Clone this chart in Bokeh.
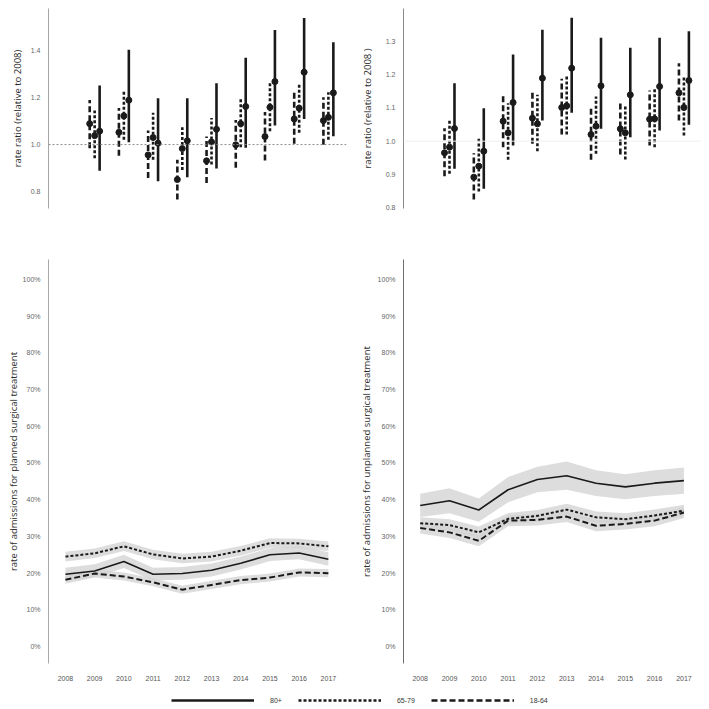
from bokeh.plotting import figure
from bokeh.layouts import column, row
from bokeh.models import (ColumnDataSource, FixedTicker, PrintfTickFormatter, Span,
                          Range1d, Legend, LegendItem)
from bokeh.transform import dodge
from bokeh.embed import file_html
from bokeh.resources import INLINE

# ---------------- data ----------------
years = [2008, 2009, 2010, 2011, 2012, 2013, 2014, 2015, 2016, 2017]
rr_years = [2009, 2010, 2011, 2012, 2013, 2014, 2015, 2016, 2017]
groups = ["80+", "65-79", "18-64"]

# rate ratios, planned surgical treatment
pl_rr_1864 = [1.089, 1.052, 0.956, 0.851, 0.931, 0.999, 1.034, 1.109, 1.102]
pl_lo_1864 = [0.984, 0.952, 0.858, 0.766, 0.836, 0.901, 0.932, 1.003, 0.999]
pl_hi_1864 = [1.190, 1.156, 1.060, 0.935, 1.034, 1.105, 1.139, 1.227, 1.201]
pl_rr_6579 = [1.038, 1.122, 1.030, 0.983, 1.011, 1.089, 1.159, 1.155, 1.116]
pl_lo_6579 = [0.942, 1.020, 0.935, 0.892, 0.915, 0.989, 1.057, 1.050, 1.020]
pl_hi_6579 = [1.145, 1.225, 1.135, 1.074, 1.113, 1.194, 1.262, 1.258, 1.223]
pl_rr_80 = [1.057, 1.189, 1.006, 1.016, 1.065, 1.162, 1.268, 1.308, 1.220]
pl_lo_80 = [0.889, 1.010, 0.844, 0.861, 0.898, 0.986, 1.081, 1.109, 1.035]
pl_hi_80 = [1.251, 1.404, 1.197, 1.197, 1.261, 1.369, 1.488, 1.539, 1.435]

# rate ratios, unplanned surgical treatment
un_rr_1864 = [0.965, 0.892, 1.060, 1.069, 1.101, 1.020, 1.037, 1.066, 1.145]
un_lo_1864 = [0.895, 0.825, 0.982, 0.992, 1.020, 0.944, 0.960, 0.987, 1.062]
un_hi_1864 = [1.039, 0.964, 1.144, 1.150, 1.187, 1.102, 1.119, 1.152, 1.234]
un_rr_6579 = [0.982, 0.925, 1.025, 1.052, 1.106, 1.045, 1.025, 1.067, 1.101]
un_lo_6579 = [0.902, 0.849, 0.944, 0.970, 1.020, 0.962, 0.945, 0.982, 1.017]
un_hi_6579 = [1.064, 1.007, 1.114, 1.139, 1.197, 1.134, 1.109, 1.157, 1.192]
un_rr_80 = [1.038, 0.970, 1.116, 1.189, 1.219, 1.166, 1.139, 1.164, 1.182]
un_lo_80 = [0.917, 0.857, 0.987, 1.062, 1.085, 1.037, 1.012, 1.032, 1.049]
un_hi_80 = [1.174, 1.099, 1.260, 1.334, 1.370, 1.310, 1.280, 1.310, 1.330]

# rates (%), planned surgical treatment
pl_rate_80 = [19.7, 20.6, 23.2, 19.7, 19.9, 20.8, 22.7, 25.0, 25.5, 23.8]
pl_rlo_80 = [18.0, 18.9, 21.4, 18.0, 18.2, 19.1, 21.0, 23.3, 23.8, 22.0]
pl_rhi_80 = [21.5, 22.4, 25.0, 21.5, 21.7, 22.6, 24.5, 26.8, 27.3, 25.7]
pl_rate_6579 = [24.5, 25.4, 27.3, 25.1, 24.0, 24.5, 26.1, 28.2, 28.1, 27.3]
pl_rlo_6579 = [23.2, 24.1, 26.0, 23.8, 22.7, 23.2, 24.8, 26.9, 26.8, 26.0]
pl_rhi_6579 = [25.8, 26.7, 28.7, 26.4, 25.3, 25.8, 27.4, 29.5, 29.4, 28.6]
pl_rate_1864 = [18.2, 19.9, 19.1, 17.5, 15.5, 16.8, 18.1, 18.8, 20.2, 20.0]
pl_rlo_1864 = [17.1, 18.8, 18.0, 16.4, 14.4, 15.7, 17.0, 17.7, 19.1, 18.9]
pl_rhi_1864 = [19.3, 21.0, 20.2, 18.6, 16.6, 17.9, 19.2, 19.9, 21.3, 21.1]

# rates (%), unplanned surgical treatment
un_rate_80 = [38.4, 39.7, 37.2, 42.7, 45.5, 46.5, 44.5, 43.5, 44.5, 45.2]
un_rlo_80 = [35.3, 36.3, 34.0, 39.3, 42.0, 42.7, 41.0, 40.1, 41.0, 41.6]
un_rhi_80 = [41.6, 43.1, 40.3, 46.2, 49.0, 50.4, 48.0, 46.9, 48.0, 48.8]
un_rate_6579 = [33.6, 33.1, 31.1, 34.8, 35.6, 37.3, 35.2, 34.7, 35.7, 37.0]
un_rlo_6579 = [32.0, 31.5, 29.6, 33.3, 34.0, 35.7, 33.7, 33.2, 34.2, 35.5]
un_rhi_6579 = [35.2, 34.7, 32.7, 36.4, 37.2, 38.9, 36.8, 36.3, 37.3, 38.6]
un_rate_1864 = [32.3, 31.1, 28.8, 34.3, 34.5, 35.4, 32.9, 33.4, 34.3, 36.5]
un_rlo_1864 = [30.8, 29.6, 27.3, 32.8, 33.0, 33.9, 31.4, 31.9, 32.8, 35.0]
un_rhi_1864 = [33.8, 32.6, 30.3, 35.8, 36.0, 36.9, 34.4, 34.9, 35.8, 38.0]

rr_ticks_pl = [0.8, 1.0, 1.2, 1.4]
rr_ticks_un = [0.8, 0.9, 1.0, 1.1, 1.2, 1.3]
pct_ticks = [0, 10, 20, 30, 40, 50, 60, 70, 80, 90, 100]

# ---------------- styles ----------------
DASH = {"80+": "solid", "65-79": "3 2", "18-64": "6 3"}
OFFSET = {"18-64": -0.17, "65-79": 0.0, "80+": 0.17}
INK = "#1a1a1a"
TICK_FONT = "Liberation Sans"
LABEL_FONT = "Open Sans"


def style_yaxis(p, label, ticks, fmt, axis_color, label_standoff):
    ax = p.yaxis[0]
    ax.axis_label = label
    ax.axis_label_text_font = LABEL_FONT
    ax.axis_label_text_font_size = "9.5px"
    ax.axis_label_text_font_style = "normal"
    ax.axis_label_text_color = "#2b2b2b"
    ax.axis_label_standoff = label_standoff
    ax.ticker = FixedTicker(ticks=ticks)
    ax.formatter = PrintfTickFormatter(format=fmt)
    ax.major_label_text_font = TICK_FONT
    ax.major_label_text_font_size = "7px"
    ax.major_label_text_color = "#666666"
    ax.major_label_standoff = 8
    ax.major_tick_line_color = None
    ax.major_tick_out = 0
    ax.major_tick_in = 0
    ax.minor_tick_line_color = None
    ax.minor_tick_out = 0
    ax.minor_tick_in = 0
    ax.axis_line_color = axis_color
    ax.axis_line_width = 1


def base_fig(width, height, xr, yr, bl, br, bt, bb):
    p = figure(width=width, height=height, x_range=xr, y_range=yr,
               output_backend="svg", toolbar_location=None,
               min_border_left=bl, min_border_right=br,
               min_border_top=bt, min_border_bottom=bb)
    p.outline_line_color = None
    p.xgrid.grid_line_color = None
    p.ygrid.grid_line_color = None
    p.background_fill_color = "white"
    return p


def rr_panel(xr, yr, width, bl, br, label, ticks, series, ref_color, ref_dash, axis_color, lstand):
    p = base_fig(width, 248, xr, yr, bl, br, 8, 40)
    p.xaxis.visible = False
    p.add_layout(Span(location=1.0, dimension="width", line_color=ref_color,
                      line_dash=ref_dash, line_width=1))
    for g in ["18-64", "65-79", "80+"]:
        rr, lo, hi = series[g]
        src = ColumnDataSource(dict(year=rr_years, rr=rr, lo=lo, hi=hi))
        xd = dodge("year", OFFSET[g], range=xr)
        p.segment(x0=xd, y0="lo", x1=xd, y1="hi", source=src, line_color=INK,
                  line_width=2.6, line_dash=DASH[g])
        p.scatter(x=xd, y="rr", source=src, size=6, fill_color=INK, line_color=INK)
    style_yaxis(p, label, ticks, "%.1f", axis_color, lstand)
    return p


def rate_panel(xr, width, bl, br, label, series, axis_color, lstand):
    yr = Range1d(-4.6, 105.4)
    p = base_fig(width, 440, xr, yr, bl, br, 11, 25)
    for g in ["80+", "65-79", "18-64"]:
        val, lo, hi = series[g]
        src = ColumnDataSource(dict(year=years, val=val, lo=lo, hi=hi))
        p.varea(x="year", y1="lo", y2="hi", source=src, fill_color="#d2d2d2",
                fill_alpha=0.75)
    for g in ["80+", "65-79", "18-64"]:
        val, lo, hi = series[g]
        src = ColumnDataSource(dict(year=years, val=val))
        lw = 1.6 if g == "80+" else 2.0
        p.line(x="year", y="val", source=src, line_color=INK, line_width=lw,
               line_dash=DASH[g])
    style_yaxis(p, label, pct_ticks, "%d%%", axis_color, lstand)
    xa = p.xaxis[0]
    xa.ticker = FixedTicker(ticks=years)
    xa.axis_line_color = None
    xa.major_tick_line_color = None
    xa.major_tick_out = 0
    xa.major_tick_in = 0
    xa.minor_tick_line_color = None
    xa.minor_tick_out = 0
    xa.minor_tick_in = 0
    xa.major_label_text_font = TICK_FONT
    xa.major_label_text_font_size = "7px"
    xa.major_label_text_color = "#555555"
    xa.major_label_standoff = 12
    return p


xr_left = Range1d(2007.42, 2017.62)
xr_right = Range1d(2007.43, 2017.60)

p1 = rr_panel(xr_left, Range1d(0.728, 1.579), 350, 48, 4,
              "rate ratio (relative to 2008)", rr_ticks_pl,
              {"18-64": (pl_rr_1864, pl_lo_1864, pl_hi_1864),
               "65-79": (pl_rr_6579, pl_lo_6579, pl_hi_6579),
               "80+": (pl_rr_80, pl_lo_80, pl_hi_80)},
              "#8c8c8c", "2 2", "#a5a5a5", 4)
p2 = rr_panel(xr_right, Range1d(0.798, 1.398), 351, 53, 0,
              "rate ratio (relative to 2008 )", rr_ticks_un,
              {"18-64": (un_rr_1864, un_lo_1864, un_hi_1864),
               "65-79": (un_rr_6579, un_lo_6579, un_hi_6579),
               "80+": (un_rr_80, un_lo_80, un_hi_80)},
              "#f0f0f0", "solid", "#8a8a8a", 9)
p3 = rate_panel(xr_left, 350, 48, 4,
                "rate of admissions for planned surgical treatment",
                {"80+": (pl_rate_80, pl_rlo_80, pl_rhi_80),
                 "65-79": (pl_rate_6579, pl_rlo_6579, pl_rhi_6579),
                 "18-64": (pl_rate_1864, pl_rlo_1864, pl_rhi_1864)},
                "#a8a8a8", 0)
p4 = rate_panel(xr_right, 351, 53, 0,
                "rate of admissions for unplanned surgical treatment",
                {"80+": (un_rate_80, un_rlo_80, un_rhi_80),
                 "65-79": (un_rate_6579, un_rlo_6579, un_rhi_6579),
                 "18-64": (un_rate_1864, un_rlo_1864, un_rhi_1864)},
                "#6e6e6e", 2)

# legend strip (proxy renderers lie outside the visible range)
pl = figure(width=701, height=21, x_range=Range1d(0, 1), y_range=Range1d(0, 1),
            output_backend="svg", toolbar_location=None, min_border=0)
pl.axis.visible = False
pl.grid.visible = False
pl.outline_line_color = None
items = []
for g in groups:
    r = pl.line(x=[5, 6], y=[5, 5], line_color=INK, line_width=2.4, line_dash=DASH[g])
    items.append(LegendItem(label=g, renderers=[r]))
leg = Legend(items=items, orientation="horizontal", location=(171, 5),
             glyph_width=83, glyph_height=8, label_height=8, label_width=10,
             label_standoff=16, spacing=16, padding=0, margin=0,
             border_line_color=None, background_fill_alpha=0,
             label_text_font=TICK_FONT, label_text_font_size="7px",
             label_text_color="#333333", label_text_baseline="middle")
pl.add_layout(leg, "center")

layout = column(row(p1, p2), row(p3, p4), pl, spacing=0)
open("out.html", "w").write(file_html(layout, INLINE))
